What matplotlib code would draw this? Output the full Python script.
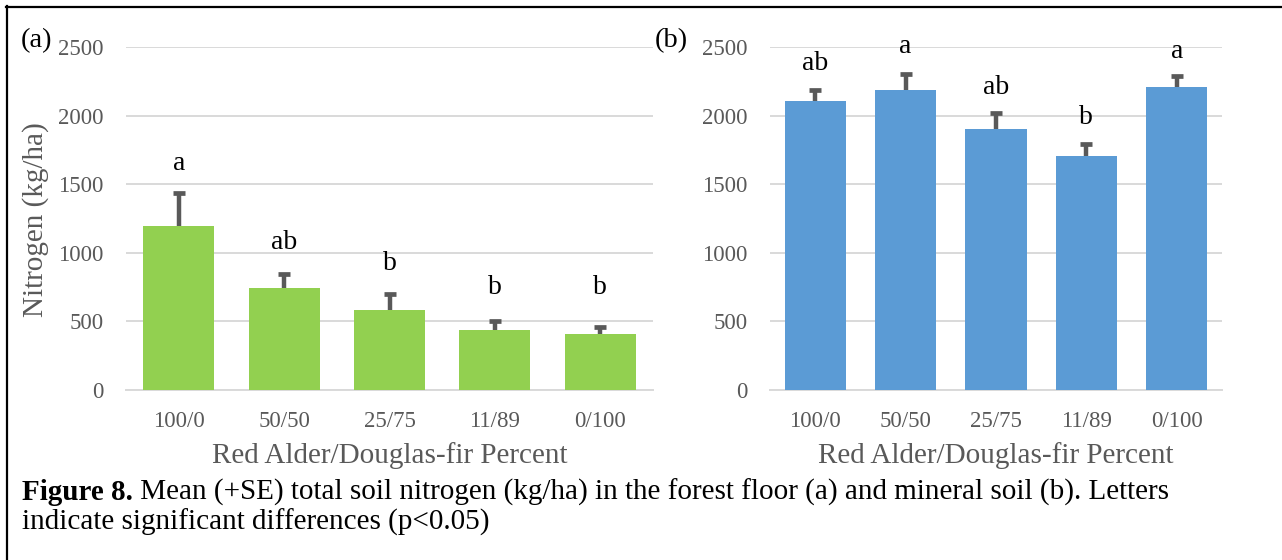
import matplotlib
matplotlib.use("Agg")
import matplotlib.pyplot as plt
from matplotlib.lines import Line2D
import numpy as np

# ---------------- data ----------------
categories = ["100/0", "50/50", "25/75", "11/89", "0/100"]

floor_mean = [1195, 740, 585, 435, 405]
floor_se = [242, 106, 115, 66, 52]
floor_letters = ["a", "ab", "b", "b", "b"]
floor_letter_y = [1650, 1077, 919, 744, 744]

mineral_mean = [2104, 2184, 1899, 1702, 2206]
mineral_se = [85, 117, 119, 93, 80]
mineral_letters = ["ab", "a", "ab", "b", "a"]
mineral_letter_y = [2383, 2500, 2203, 1989, 2464]

yticks = [0, 500, 1000, 1500, 2000, 2500]

xlabel_text = "Red Alder/Douglas-fir Percent"
ylabel_text = "Nitrogen (kg/ha)"
caption_bold = "Figure 8."
caption_line1 = " Mean (+SE) total soil nitrogen (kg/ha) in the forest floor (a) and mineral soil (b). Letters"
caption_line2 = "indicate significant differences (p<0.05)"

# ---------------- style ----------------
plt.rcParams["font.family"] = ["Liberation Serif", "DejaVu Serif"]
W, H = 1282, 560
DPI = 100
GREEN = "#92D050"
BLUE = "#5B9BD5"
GRID = "#D9D9D9"
TXT = "#595959"
ERR = "#595959"

fig = plt.figure(figsize=(W / DPI, H / DPI), dpi=DPI)


def fx(px):
    return px / W


def fy(py):
    return 1 - py / H


def make_panel(left, right, top, bottom, means, ses, letters, letter_y, color):
    ax = fig.add_axes([fx(left), fy(bottom), fx(right - left), (bottom - top) / H])
    x = np.arange(len(categories))
    ax.bar(x, means, width=0.675, color=color, zorder=2)
    eb = ax.errorbar(x, means, yerr=[np.zeros(len(ses)), ses], fmt="none",
                     ecolor=ERR, elinewidth=3.2, capsize=4.5, capthick=3.4, zorder=3)
    # hide the lower caps (plus-only error bars)
    eb[1][0].set_visible(False)
    for xi, lab, ly in zip(x, letters, letter_y):
        ax.text(xi, ly, lab, ha="center", va="center", fontsize=20, color="black", zorder=4)
    ax.set_xlim(-0.5, len(categories) - 0.5)
    ax.set_ylim(0, 2500)
    ax.set_yticks(yticks)
    ax.set_xticks(x)
    ax.set_xticklabels(categories)
    ax.yaxis.grid(True, color=GRID, linewidth=1.4, zorder=0)
    ax.set_axisbelow(True)
    for s in ["top", "right", "left"]:
        ax.spines[s].set_visible(False)
    ax.spines["bottom"].set_color(GRID)
    ax.spines["bottom"].set_linewidth(1.4)
    ax.spines["bottom"].set_zorder(1)
    ax.tick_params(axis="both", length=0, labelsize=16.5, labelcolor=TXT)
    ax.tick_params(axis="x", pad=15)
    ax.tick_params(axis="y", pad=16)
    return ax


ax1 = make_panel(126, 653, 47, 390, floor_mean, floor_se, floor_letters, floor_letter_y, GREEN)
ax2 = make_panel(770, 1222, 47, 390, mineral_mean, mineral_se, mineral_letters, mineral_letter_y, BLUE)

# axis titles
for ax, cx in [(ax1, (126 + 653) / 2), (ax2, (770 + 1222) / 2)]:
    fig.text(fx(cx), fy(463), xlabel_text, ha="center", va="baseline", fontsize=21, color=TXT)
fig.text(fx(36), fy(220), ylabel_text, ha="center", va="center", rotation=90, fontsize=21, color=TXT)

# panel letters
fig.text(fx(21), fy(47), "(a)", ha="left", va="baseline", fontsize=20.5, color="black")
fig.text(fx(655), fy(47), "(b)", ha="left", va="baseline", fontsize=20.5, color="black")

# caption
CAP = 21
t1 = fig.text(fx(22), fy(500), caption_bold, ha="left", va="baseline", fontsize=CAP,
              fontweight="bold", color="black")
fig.canvas.draw()
bb = t1.get_window_extent()
fig.text(bb.x1 / W, fy(500), caption_line1, ha="left", va="baseline", fontsize=CAP, color="black")
fig.text(fx(22), fy(530), caption_line2, ha="left", va="baseline", fontsize=CAP, color="black")

# frame lines (top and left)
fig.add_artist(Line2D([fx(6), 1.0], [fy(6.5), fy(6.5)], color="black", linewidth=1.6,
                      transform=fig.transFigure))
fig.add_artist(Line2D([fx(6.5), fx(6.5)], [fy(6), 0.0], color="black", linewidth=1.6,
                      transform=fig.transFigure))

fig.savefig("out.png", dpi=DPI, facecolor="white")
